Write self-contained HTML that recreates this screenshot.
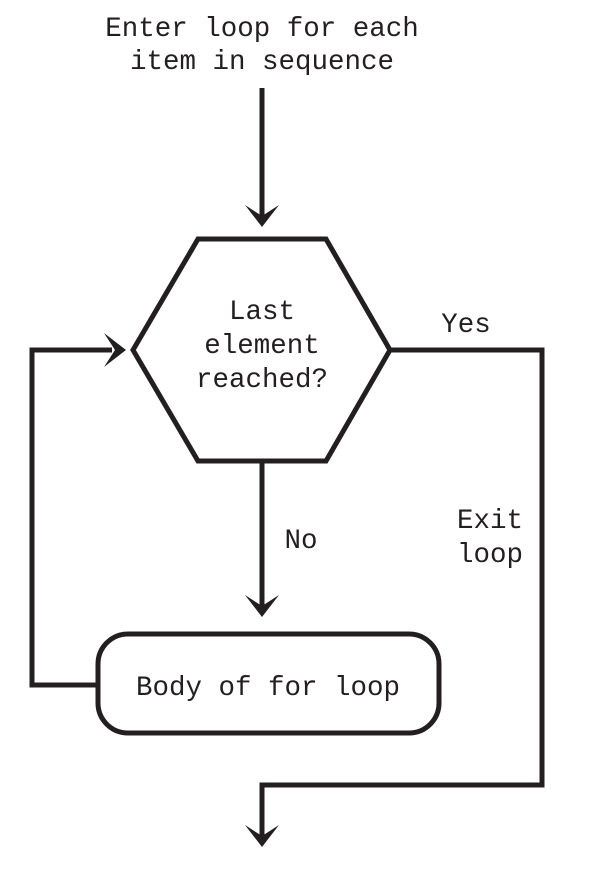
<!DOCTYPE html>
<html><head><style>
html,body{margin:0;padding:0;background:#fff;}
svg{display:block;}
text{font-family:"Liberation Mono","DejaVu Sans Mono",monospace;font-size:27.5px;fill:#231f20;text-anchor:middle;}
</style></head><body>
<svg width="591" height="891" viewBox="0 0 591 891" xmlns="http://www.w3.org/2000/svg">
<defs>
<path id="ah" d="M0,0 L-17,-22 L0,-11 L17,-22 Z" fill="#231f20"/>
</defs>
<g stroke="#231f20" stroke-width="5" fill="none" stroke-linejoin="miter">
<line x1="262" y1="88" x2="262" y2="216"/>
<polygon points="198,239 326,239 390,350 326,461 198,461 133,350"/>
<polyline points="390,350 542,350 542,785 262,785 262,836"/>
<line x1="262" y1="461" x2="262" y2="606"/>
<rect x="98" y="634" width="341" height="99" rx="30" ry="30"/>
<polyline points="98,685 32,685 32,350 112,350"/>
</g>
<use href="#ah" x="262" y="227"/>
<use href="#ah" x="262" y="617"/>
<use href="#ah" x="262" y="847"/>
<use href="#ah" transform="translate(126,350) rotate(-90)"/>
<text x="262" y="36">Enter loop for each</text>
<text x="262" y="69">item in sequence</text>
<text x="262" y="319">Last</text>
<text x="262" y="353">element</text>
<text x="262" y="387">reached?</text>
<text x="466" y="332">Yes</text>
<text x="301" y="548">No</text>
<text x="490" y="528">Exit</text>
<text x="490" y="562">loop</text>
<text x="268" y="695">Body of for loop</text>
</svg>
</body></html>
